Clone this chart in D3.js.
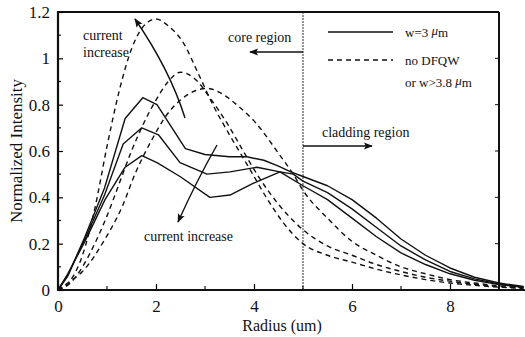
<!DOCTYPE html>
<html>
<head>
<meta charset="utf-8">
<script src="https://cdn.jsdelivr.net/npm/d3@7"></script>
<style>
  body { margin: 0; background: #fff; }
  svg text { font-family: "Liberation Serif", "Times New Roman", serif; fill: #111; }
</style>
</head>
<body>
<svg id="chart" width="525" height="337"></svg>
<script>
  // values: [radius (um), normalized intensity]
  const solid_high = [[0,0],[0.2,0.06],[0.55,0.23],[0.95,0.44],[1.37,0.74],[1.73,0.83],[2.02,0.80],[2.6,0.61],[3.0,0.585],[3.5,0.575],[3.85,0.575],[4.2,0.56],[4.5,0.535],[4.75,0.51],[5.0,0.49],[5.5,0.45],[6.0,0.39],[6.5,0.31],[7.0,0.22],[7.5,0.15],[8.0,0.095],[8.5,0.055],[9.0,0.03],[9.5,0.015]];
  const solid_mid  = [[0,0],[0.2,0.065],[0.55,0.22],[0.95,0.41],[1.33,0.63],[1.71,0.70],[2.05,0.67],[2.49,0.55],[3.04,0.50],[3.51,0.51],[4.06,0.53],[4.53,0.51],[5.0,0.45],[5.5,0.39],[6.0,0.31],[6.5,0.23],[7.0,0.16],[7.5,0.11],[8.0,0.07],[8.5,0.042],[9.0,0.023],[9.5,0.012]];
  const solid_low  = [[0,0],[0.2,0.07],[0.55,0.21],[0.96,0.39],[1.37,0.53],[1.71,0.58],[2.02,0.55],[2.49,0.49],[3.1,0.40],[3.51,0.41],[3.98,0.46],[4.53,0.51],[4.8,0.50],[5.0,0.47],[5.5,0.42],[6.0,0.35],[6.5,0.27],[7.0,0.19],[7.5,0.13],[8.0,0.08],[8.5,0.048],[9.0,0.026],[9.5,0.013]];

  const dash_narrow = [[0,0],[0.25,0.04],[0.5,0.15],[0.75,0.35],[1.0,0.62],[1.25,0.86],[1.5,1.04],[1.75,1.14],[2.0,1.17],[2.25,1.14],[2.55,1.07],[2.85,0.94],[3.16,0.80],[3.5,0.67],[3.92,0.52],[4.25,0.40],[4.6,0.29],[5.0,0.20],[5.5,0.15],[6.0,0.12],[6.5,0.09],[7.0,0.065],[7.5,0.045],[8.0,0.03],[8.5,0.02],[9.0,0.012],[9.5,0.007]];
  const dash_mid    = [[0,0],[0.25,0.03],[0.5,0.10],[0.75,0.2],[1.0,0.32],[1.25,0.46],[1.5,0.60],[1.75,0.72],[2.0,0.82],[2.25,0.90],[2.5,0.94],[2.8,0.91],[3.1,0.83],[3.45,0.72],[3.78,0.60],[4.06,0.50],[4.5,0.37],[5.0,0.26],[5.5,0.19],[6.0,0.15],[6.5,0.11],[7.0,0.08],[7.5,0.055],[8.0,0.038],[8.5,0.025],[9.0,0.015],[9.5,0.009]];
  const dash_wide   = [[0,0],[0.2,0.03],[0.5,0.08],[0.96,0.22],[1.31,0.36],[1.57,0.50],[1.92,0.65],[2.2,0.75],[2.5,0.82],[2.8,0.86],[3.05,0.87],[3.4,0.84],[3.7,0.79],[4.0,0.73],[4.5,0.59],[4.8,0.50],[5.0,0.43],[5.5,0.31],[6.0,0.21],[6.5,0.15],[7.0,0.10],[7.5,0.07],[8.0,0.045],[8.5,0.03],[9.0,0.018],[9.5,0.01]];

  const x_ticks       = [0, 2, 4, 6, 8];
  const x_minor_ticks = [1, 3, 5, 7, 9];
  const y_ticks       = [0, 0.2, 0.4, 0.6, 0.8, 1, 1.2];
  const y_tick_labels = ["0", "0.2", "0.4", "0.6", "0.8", "1", "1.2"];
  const y_minor_ticks = [0.1, 0.3, 0.5, 0.7, 0.9, 1.1];
  const CORE_EDGE = 5;

  const svg = d3.select('#chart');
  const x = d3.scaleLinear().domain([0, 9]).range([58, 499]);
  const y = d3.scaleLinear().domain([0, 1.2]).range([290, 12]);

  // frame (top and right)
  svg.append('line').attr('x1', x(0)).attr('x2', x(9)).attr('y1', y(1.2)).attr('y2', y(1.2))
    .attr('stroke', '#111').attr('stroke-width', 2);
  svg.append('line').attr('x1', x(9)).attr('x2', x(9)).attr('y1', y(1.2)).attr('y2', y(0))
    .attr('stroke', '#111').attr('stroke-width', 2);

  // core / cladding boundary
  svg.append('line').attr('x1', x(CORE_EDGE)).attr('x2', x(CORE_EDGE)).attr('y1', y(1.2)).attr('y2', y(0))
    .attr('stroke', '#333').attr('stroke-width', 1).attr('stroke-dasharray', '2,1');

  // axes
  const y_axis = d3.axisLeft(y).tickValues(y_ticks).tickSize(-5).tickPadding(8)
    .tickFormat((d, i) => y_tick_labels[i]);
  const g_y = svg.append('g').attr('transform', 'translate(' + x(0) + ',0)').call(y_axis);
  g_y.select('.domain').remove();
  g_y.selectAll('text').attr('font-size', 17);
  g_y.selectAll('line').attr('stroke-width', 1.2);
  svg.append('g').selectAll('line').data(y_minor_ticks).join('line')
    .attr('x1', x(0)).attr('x2', x(0) + 3).attr('y1', d => y(d)).attr('y2', d => y(d))
    .attr('stroke', '#111').attr('stroke-width', 1.2);
  svg.append('g').selectAll('line').data(y_ticks.slice(1, -1)).join('line')
    .attr('x1', x(9)).attr('x2', x(9) - 4).attr('y1', d => y(d)).attr('y2', d => y(d))
    .attr('stroke', '#111').attr('stroke-width', 1);

  const x_axis = d3.axisBottom(x).tickValues(x_ticks).tickSize(-6).tickPadding(10)
    .tickFormat(d3.format('d'));
  const g_x = svg.append('g').attr('transform', 'translate(0,' + y(0) + ')').call(x_axis);
  g_x.select('.domain').remove();
  g_x.selectAll('text').attr('font-size', 17);
  g_x.selectAll('line').attr('stroke-width', 1.2);
  svg.append('g').selectAll('line').data(x_minor_ticks).join('line')
    .attr('x1', d => x(d)).attr('x2', d => x(d)).attr('y1', y(0)).attr('y2', y(0) - 4)
    .attr('stroke', '#111').attr('stroke-width', 1.2);

  svg.append('line').attr('x1', x(0)).attr('x2', 525).attr('y1', y(0)).attr('y2', y(0))
    .attr('stroke', '#111').attr('stroke-width', 2.2);
  svg.append('line').attr('x1', x(0)).attr('x2', x(0)).attr('y1', y(1.2) - 1).attr('y2', y(0) + 1)
    .attr('stroke', '#111').attr('stroke-width', 2.2);

  // axis titles
  svg.append('text').attr('transform', 'translate(22,151) rotate(-90)')
    .attr('text-anchor', 'middle').attr('font-size', 17).text('Normalized Intensity');
  svg.append('text').attr('x', 282).attr('y', 331)
    .attr('text-anchor', 'middle').attr('font-size', 16).text('Radius (um)');

  // curves
  const line = d3.line().x(d => x(d[0])).y(d => y(d[1]));
  const smooth = d3.line().x(d => x(d[0])).y(d => y(d[1])).curve(d3.curveMonotoneX);

  [dash_narrow, dash_mid, dash_wide].forEach(function (s) {
    svg.append('path').datum(s).attr('d', smooth).attr('fill', 'none')
      .attr('stroke', '#111').attr('stroke-width', 1.4).attr('stroke-dasharray', '5,4');
  });
  [solid_high, solid_mid, solid_low].forEach(function (s) {
    svg.append('path').datum(s).attr('d', line).attr('fill', 'none')
      .attr('stroke', '#111').attr('stroke-width', 1.4).attr('stroke-linejoin', 'round');
  });

  // arrow heads
  const defs = svg.append('defs');
  defs.append('marker').attr('id', 'head').attr('viewBox', '0 0 10 10')
    .attr('refX', 9).attr('refY', 5).attr('markerWidth', 9).attr('markerHeight', 9)
    .attr('markerUnits', 'userSpaceOnUse').attr('orient', 'auto')
    .append('path').attr('d', 'M0,1 L10,5 L0,9 L2,5 Z').attr('fill', '#111');

  function arrow(d) {
    svg.append('path').attr('d', d).attr('fill', 'none').attr('stroke', '#111')
      .attr('stroke-width', 1.4).attr('marker-end', 'url(#head)');
  }
  arrow('M185,118 Q170,70 135,19');
  arrow('M217,145 Q197,180 178,222');
  arrow('M303,52 L250,52');
  arrow('M303,146 L372,146');

  // annotations
  function label(xp, yp, txt, size) {
    svg.append('text').attr('x', xp).attr('y', yp).attr('font-size', size || 14).text(txt);
  }
  label(83, 40, 'current');
  label(83, 57, 'increase');
  label(144, 241, 'current increase');
  label(228, 42, 'core region');
  label(322, 137, 'cladding region');

  // legend
  svg.append('line').attr('x1', 328).attr('x2', 393).attr('y1', 32).attr('y2', 32)
    .attr('stroke', '#111').attr('stroke-width', 1.4);
  svg.append('line').attr('x1', 328).attr('x2', 393).attr('y1', 60).attr('y2', 60)
    .attr('stroke', '#111').attr('stroke-width', 1.4).attr('stroke-dasharray', '5,4');
  const l1 = svg.append('text').attr('x', 405).attr('y', 37).attr('font-size', 13);
  l1.append('tspan').text('w=3 ');
  l1.append('tspan').attr('font-style', 'italic').attr('dy', -2).text('\u03bc');
  l1.append('tspan').attr('dy', 2).text('m');
  label(405, 65, 'no DFQW', 13);
  const l2 = svg.append('text').attr('x', 405).attr('y', 87).attr('font-size', 13);
  l2.append('tspan').text('or w>3.8 ');
  l2.append('tspan').attr('font-style', 'italic').attr('dy', -2).text('\u03bc');
  l2.append('tspan').attr('dy', 2).text('m');
</script>
</body>
</html>
